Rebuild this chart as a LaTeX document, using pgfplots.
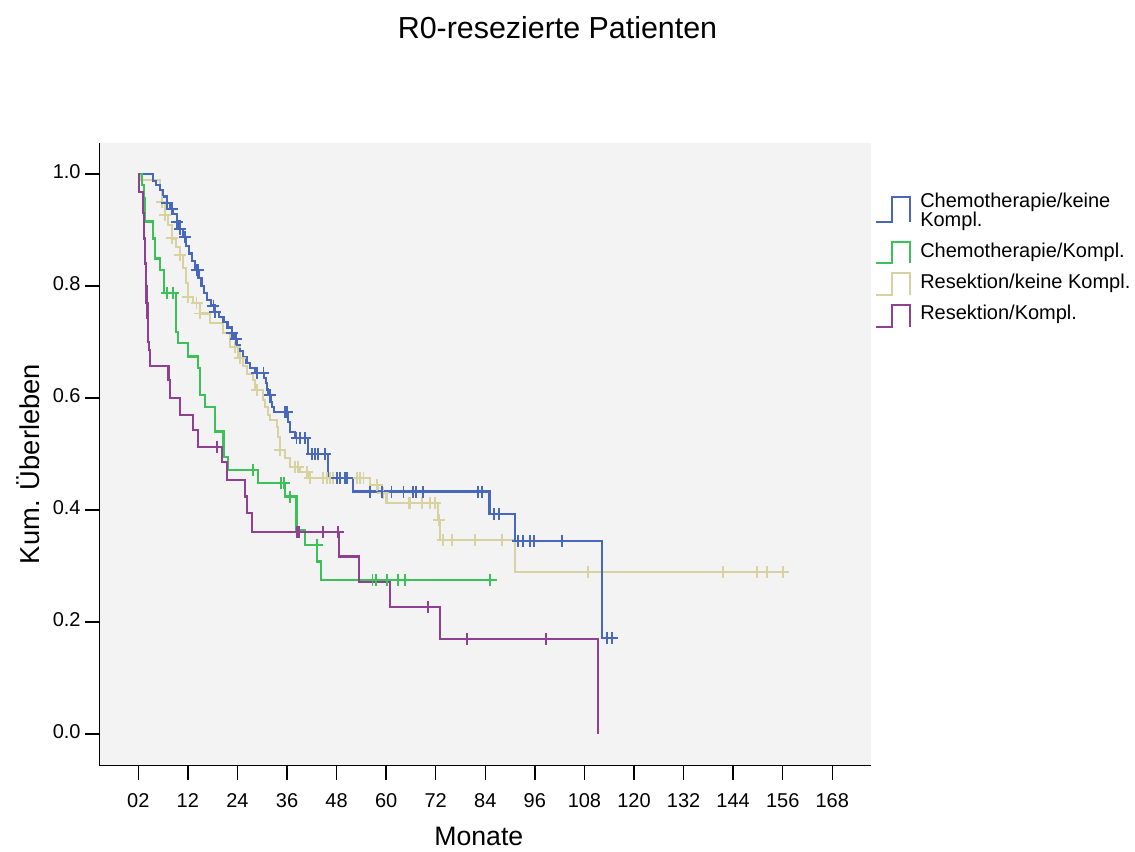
\documentclass[border=0pt]{standalone}
\usepackage{pgfplots}
\pgfplotsset{compat=1.18}
\usepackage{fontspec}
\setmainfont{Liberation Sans}
\definecolor{cblue}{HTML}{4868BE}
\definecolor{cgreen}{HTML}{3CC058}
\definecolor{cbeige}{HTML}{D8D2A0}
\definecolor{cpurple}{HTML}{904090}
\definecolor{bg}{HTML}{F3F3F3}
\tikzset{kmline/.style={const plot, no marks, line width=1.7pt},
         censmark/.style={only marks, mark=+, mark size=4.5pt, mark options={line width=1.4pt}}}
\begin{document}
\begin{tikzpicture}
\useasboundingbox (-74.475pt,-64.725pt) rectangle (776.775pt,574.275pt);
\begin{axis}[
  at={(0,0)}, anchor=south west,
  scale only axis, width=578.775pt, height=467.25pt,
  xmin=-9.44, xmax=177.37, ymin=-0.0566, ymax=1.0559,
  axis lines*=left,
  axis line style={-, black, line width=1.1pt},
  axis background/.style={fill=bg},
  tick align=outside,
  major tick length=10.5pt,
  tick style={black, line width=1.1pt},
  xtick={0,12,...,168},
  xticklabels={02,12,24,36,48,60,72,84,96,108,120,132,144,156,168},
  ytick={0,0.2,0.4,0.6,0.8,1.0},
  yticklabels={0.0,0.2,0.4,0.6,0.8,1.0},
  typeset ticklabels with strut,
  tick label style={font=\fontsize{15}{18}\selectfont},
  xticklabel style={yshift=-4.5pt},
  /pgf/number format/assume math mode=true,
  clip=false,
]
% Resektion/keine Kompl.
\addplot[cbeige, kmline] coordinates {
(0,1.0) (0.8,0.989) (5.25,0.971) (5.7,0.95) (6.5,0.927) (7.2,0.909) (8.1,0.885)
(9.1,0.87) (10.1,0.855) (10.8,0.832) (11.5,0.805) (12.1,0.781) (13.2,0.77)
(14.9,0.751) (17.4,0.734) (20.5,0.716) (22.2,0.691) (24.2,0.671) (25.3,0.657)
(26.3,0.643) (27.8,0.632) (28.2,0.614) (30.2,0.596) (30.7,0.584) (31.4,0.570)
(31.9,0.561) (33.5,0.548) (33.8,0.530) (34.3,0.507) (35.5,0.493) (36.7,0.477)
(39.1,0.468) (41.1,0.457) (56.1,0.445) (58.0,0.430) (60.1,0.413) (72.6,0.382)
(73.0,0.346) (91.2,0.289) (157.3,0.289)};
\addplot[cbeige, censmark] coordinates {
(5.7,0.95) (6.5,0.927) (8.1,0.885) (10.1,0.855) (12.1,0.781) (14.1,0.77) (14.9,0.751)
(23.4,0.691) (24.6,0.671) (28.7,0.614) (34.3,0.507) (37.9,0.477) (38.7,0.477)
(40.8,0.468) (41.6,0.457) (44.8,0.457) (45.6,0.457) (46.4,0.457) (47.2,0.457)
(52.9,0.457) (53.7,0.457) (54.5,0.457) (57.7,0.445) (59.3,0.43) (65.4,0.413)
(65.8,0.413) (68.6,0.413) (70.6,0.413) (71.8,0.413) (72.8,0.382) (73.8,0.346)
(75.9,0.346) (81.5,0.346) (88.0,0.346) (108.9,0.289) (141.5,0.289) (149.8,0.289)
(152.1,0.289) (156.0,0.289)};
% Chemotherapie/keine Kompl.
\addplot[cblue, kmline] coordinates {
(0,1.0) (3.6,0.988) (4.3,0.980) (5.2,0.971) (5.9,0.960) (6.9,0.948) (7.6,0.938)
(8.4,0.928) (9.3,0.915) (10.0,0.902) (10.9,0.887) (11.6,0.872) (12.3,0.858)
(13.0,0.844) (13.7,0.829) (14.6,0.814) (15.3,0.800) (15.9,0.787) (16.6,0.775)
(17.6,0.765) (18.6,0.754) (19.6,0.745) (20.6,0.736) (21.6,0.726) (22.6,0.716)
(23.2,0.705) (23.8,0.695) (24.6,0.684) (25.4,0.673) (26.2,0.662) (27.0,0.653)
(28.2,0.644) (30.5,0.636) (30.9,0.627) (31.1,0.615) (31.4,0.605) (32.0,0.593)
(32.4,0.584) (32.8,0.575) (36.2,0.557) (36.7,0.539) (38.0,0.528) (41.1,0.500)
(46.0,0.457) (52.0,0.433) (85.0,0.393) (91.2,0.345) (112.2,0.172) (114.9,0.172)};
\addplot[cblue, censmark] coordinates {
(6.9,0.948) (8.1,0.938) (9.3,0.915) (10.1,0.902) (11.3,0.887) (14.1,0.829) (14.4,0.829)
(18.2,0.765) (18.6,0.754) (22.6,0.716) (23.6,0.705) (28.7,0.644) (30.3,0.644)
(31.9,0.605) (35.6,0.575) (36.0,0.575) (38.3,0.528) (39.1,0.528) (40.4,0.528)
(42.0,0.5) (42.8,0.5) (43.6,0.5) (45.2,0.5) (48.0,0.457) (48.8,0.457) (50.0,0.457)
(50.6,0.457) (56.1,0.433) (58.9,0.433) (61.3,0.433) (64.2,0.433) (66.6,0.433)
(67.2,0.433) (69.0,0.433) (82.3,0.433) (83.1,0.433) (86.2,0.393) (87.4,0.393)
(92.0,0.345) (93.1,0.345) (94.8,0.345) (95.8,0.345) (102.5,0.345) (113.5,0.172)
(114.7,0.172)};
% Chemotherapie/Kompl.
\addplot[cgreen, kmline] coordinates {
(0,1.0) (0.9,0.98) (1.3,0.957) (1.6,0.915) (3.6,0.885) (4.0,0.849) (5.25,0.829)
(6.3,0.787) (9.1,0.718) (9.7,0.698) (12.1,0.674) (14.5,0.653) (14.9,0.606)
(16.1,0.584) (18.6,0.540) (20.6,0.495) (21.8,0.471) (29.0,0.448) (35.5,0.424)
(38.3,0.364) (40.3,0.3375) (43.3,0.308) (44.2,0.275) (86.8,0.275)};
\addplot[cgreen, censmark] coordinates {
(6.9,0.787) (8.5,0.787) (27.8,0.471) (34.5,0.448) (35.3,0.448) (36.7,0.424)
(43.3,0.3375) (56.7,0.275) (57.5,0.275) (60.1,0.275) (62.9,0.275) (64.6,0.275)
(85.1,0.275)};
% Resektion/Kompl.
\addplot[cpurple, kmline] coordinates {
(0,1.0) (0.2,0.968) (1.2,0.93) (1.4,0.885) (1.6,0.84) (1.8,0.80) (2.0,0.769)
(2.2,0.743) (2.4,0.70) (2.6,0.686) (2.8,0.657) (7.3,0.632) (7.7,0.600)
(10.1,0.570) (13.3,0.543) (14.5,0.513) (20.2,0.486) (21.4,0.454) (25.8,0.424)
(26.3,0.394) (27.5,0.361) (48.6,0.317) (53.5,0.272) (61.0,0.227) (73.0,0.170)
(111.3,0.0)};
\addplot[cpurple, censmark] coordinates {
(19.1,0.513) (38.5,0.361) (38.9,0.361) (44.8,0.361) (48.4,0.361) (70.2,0.227)
(79.5,0.17) (98.7,0.17)};
\end{axis}
\begin{scope}[x=0.75pt,y=-0.75pt,shift={(-74.475pt,574.275pt)}]
\node[anchor=center, font=\fontsize{22.8}{26}\selectfont] at (557.5,28) {R0-resezierte Patienten};
\node[anchor=base, font=\fontsize{20}{24}\selectfont] at (478.8,846) {Monate};
\node[anchor=base, rotate=90, font=\fontsize{20.5}{24}\selectfont] at (39.5,464) {Kum. Überleben};
\draw[cblue, line width=1.3pt] (876,222)--(892,222)--(892,197)--(910,197)--(910,222);
\draw[cgreen, line width=1.3pt] (876,263)--(892,263)--(892,242)--(910,242)--(910,263);
\draw[cbeige, line width=1.3pt] (876,295)--(892,295)--(892,273)--(910,273)--(910,295);
\draw[cpurple, line width=1.3pt] (876,327)--(892,327)--(892,305)--(910,305)--(910,327);
\begin{scope}[every node/.style={anchor=base west, inner sep=0pt, font=\fontsize{15}{18}\selectfont}]
\node at (920,207.3) {Chemotherapie/keine};
\node at (920,226.7) {Kompl.};
\node at (920,257.3) {Chemotherapie/Kompl.};
\node at (920,288.3) {Resektion/keine Kompl.};
\node at (920,319.3) {Resektion/Kompl.};
\end{scope}
\end{scope}
\end{tikzpicture}
\end{document}
